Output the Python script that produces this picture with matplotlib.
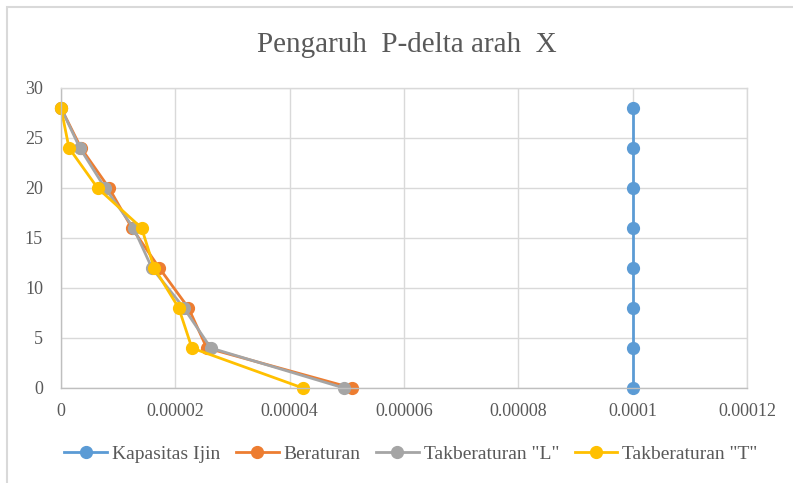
import matplotlib
matplotlib.use("Agg")
import matplotlib.pyplot as plt
from matplotlib.ticker import FuncFormatter, MultipleLocator
from matplotlib.patches import Rectangle

# Story levels (y) and drift ratio values (x) per series
lantai = [0, 4, 8, 12, 16, 20, 24, 28]
kapasitas_ijin = [0.0001, 0.0001, 0.0001, 0.0001, 0.0001, 0.0001, 0.0001, 0.0001]
beraturan = [5.09e-5, 2.55e-5, 2.23e-5, 1.72e-5, 1.24e-5, 8.4e-6, 3.5e-6, 0.0]
takberaturan_l = [4.95e-5, 2.62e-5, 2.15e-5, 1.59e-5, 1.27e-5, 7.7e-6, 3.3e-6, 0.0]
takberaturan_t = [4.23e-5, 2.29e-5, 2.06e-5, 1.63e-5, 1.41e-5, 6.4e-6, 1.4e-6, 0.0]

series = [
    ("Kapasitas Ijin", kapasitas_ijin, "#5B9BD5"),
    ("Beraturan", beraturan, "#ED7D31"),
    ('Takberaturan "L"', takberaturan_l, "#A5A5A5"),
    ('Takberaturan "T"', takberaturan_t, "#FFC000"),
]

plt.rcParams['font.family'] = ['Liberation Serif', 'DejaVu Serif']
text_col = "#595959"
grid_col = "#D9D9D9"


def fmt_x(v, pos):
    if abs(v) < 1e-12:
        return "0"
    return f"{v:.5f}".rstrip('0')


fig = plt.figure(figsize=(7.93, 4.83), dpi=100)
ax = fig.add_axes([61 / 793, 1 - 388 / 483, 686 / 793, 300 / 483])

# chart border
fig.patches.append(Rectangle((7 / 793, -0.05), 1.1, 1 - 7 / 483 + 0.05,
                             transform=fig.transFigure, fill=False,
                             edgecolor="#D9D9D9", linewidth=1.5))

for name, xs, col in series:
    ax.plot(xs, lantai, color=col, linewidth=2, marker='o', markersize=8.5,
            label=name, clip_on=False)

ax.set_xlim(0, 0.00012)
ax.set_ylim(0, 30)
ax.xaxis.set_major_locator(MultipleLocator(0.00002))
ax.yaxis.set_major_locator(MultipleLocator(5))
ax.xaxis.set_major_formatter(FuncFormatter(fmt_x))

ax.grid(True, color=grid_col, linewidth=1)
ax.set_axisbelow(True)
for s in ax.spines.values():
    s.set_color(grid_col)
    s.set_linewidth(1)
ax.spines['left'].set_color("#BFBFBF")
ax.spines['bottom'].set_color("#BFBFBF")
ax.tick_params(length=0, labelsize=13, labelcolor=text_col)
ax.tick_params(axis='y', pad=13)
ax.tick_params(axis='x', pad=11)

fig.text(407 / 793, 1 - 45 / 483, "Pengaruh  P-delta arah  X", ha='center', va='center',
         fontsize=21, color=text_col)

ax.legend(loc='center', bbox_to_anchor=((411 - 61) / 686, (388 - 454) / 300),
          ncol=4, frameon=False, fontsize=14, labelcolor=text_col,
          handlelength=2.2, handletextpad=0.25, columnspacing=0.8)

fig.savefig("out.png", dpi=100)
